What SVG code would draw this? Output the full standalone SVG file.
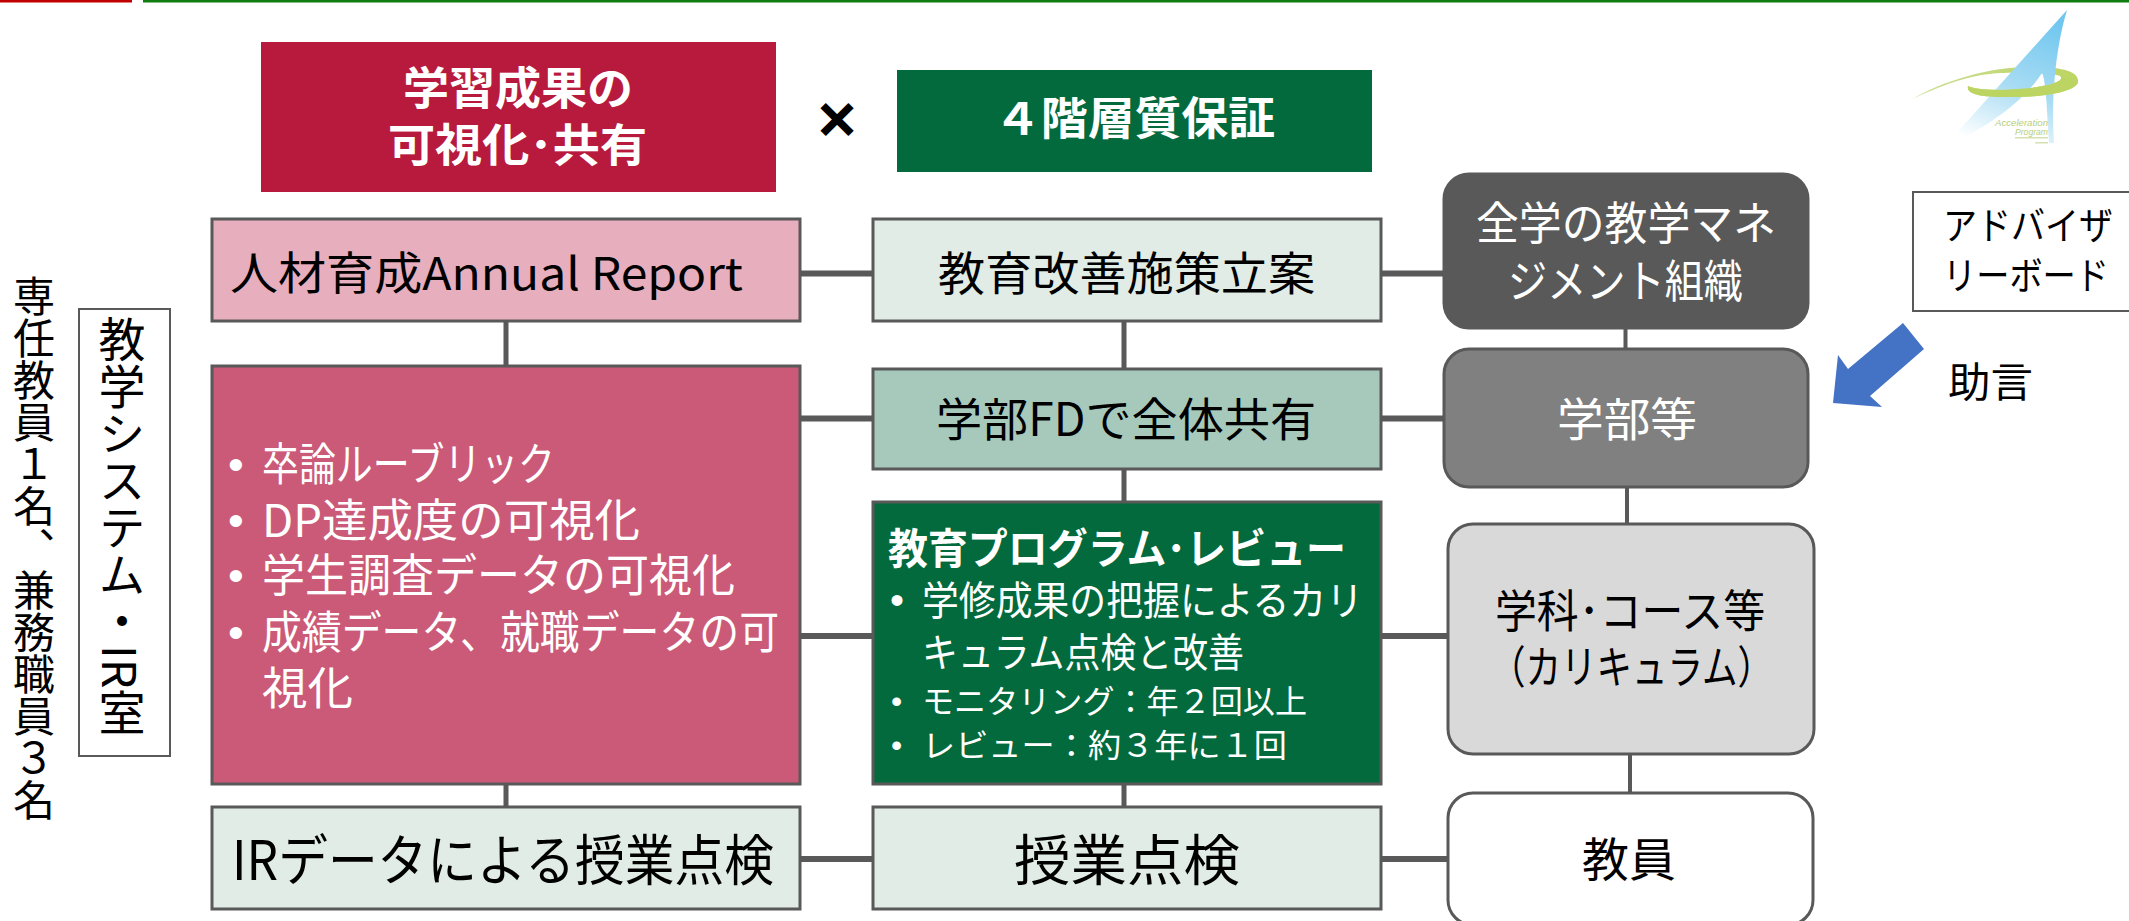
<svg xmlns="http://www.w3.org/2000/svg" width="2129" height="921" viewBox="0 0 2129 921">
<style>
text{font-family:"Noto Sans CJK JP","Noto Sans",sans-serif;fill:#000}
.w{fill:#fff}
.b{font-weight:700}
.bu{font-family:"Liberation Sans",sans-serif}
.box{stroke:#595959;stroke-width:3}
.thin{stroke:#595959;stroke-width:2}
.cn{stroke:#595959;fill:none}
.h{stroke-width:6}
.v{stroke-width:5}
.v3{stroke-width:4}
.vt{writing-mode:vertical-rl}
.lg{font-family:"Liberation Sans",sans-serif;font-style:italic;fill:#b9ce7a}
</style>
<defs>
<linearGradient id="blue" x1="0.7" y1="0" x2="0.35" y2="1"><stop offset="0" stop-color="#6fc6ef"/><stop offset="0.55" stop-color="#a9dcf4"/><stop offset="1" stop-color="#ffffff"/></linearGradient>
<linearGradient id="tail" x1="0" y1="0" x2="1" y2="0"><stop offset="0" stop-color="#dce8b4"/><stop offset="0.2" stop-color="#c8dc8a"/><stop offset="1" stop-color="#bcd562"/></linearGradient>
<filter id="soft"><feGaussianBlur stdDeviation="0.5"/></filter>
</defs>
<rect width="2129" height="921" fill="#fff"/>
<rect x="0" y="0" width="132" height="2.500" fill="#c00000"/>
<rect x="143" y="0" width="1986" height="2.500" fill="#107c10"/>

<g id="connectors">
<path class="cn h" d="M800 273.500H873M1381 273.500H1443M800 418.500H873M1381 418.500H1444M800 636H873M1381 636H1448M800 859H873M1381 859H1448"/>
<path class="cn v" d="M506 321V365M506 784V807M1124 321V368M1124 469V501M1124 784V807"/>
<path class="cn v3" d="M1625.500 328V348M1627 487V523M1630 754V792"/>
</g>

<g id="logo">
<g filter="url(#soft)">
<path fill="url(#tail)" d="M1912 99C1945 80 1995 65 2040 67C2070 68 2079 74 2078 82C2076 92 2040 98 2005 97C1980 97 1966 94 1968 86C1975 90 2000 91 2030 88C2055 85 2065 80 2060 76C2050 73 2020 72 2000 73C1965 75 1940 87 1912 99Z"/>
<path fill="url(#blue)" d="M2067 10L1945 146C1985 130 2025 100 2042 73C2046 80 2047 110 2049 143L2054 143C2051 100 2055 50 2067 10Z"/>
<path fill="#bcd562" d="M2078 82C2076 92 2040 98 2005 97C1980 97 1966 94 1968 86C1975 90 2000 91 2030 88C2055 85 2065 80 2060 76Z"/>
<rect x="2015" y="137" width="33" height="1.500" fill="#d5e0b0"/>
<rect x="2035" y="142" width="13" height="1.500" fill="#d5e0b0"/>
</g>
<text class="lg" x="2048" y="126" text-anchor="end" font-size="9.500" textLength="53" lengthAdjust="spacingAndGlyphs">Acceleration</text>
<text class="lg" x="2048" y="135" text-anchor="end" font-size="9.500" textLength="33" lengthAdjust="spacingAndGlyphs">Program</text>
</g>

<g id="header-red">
<rect x="261" y="42" width="515" height="150" fill="#b71a3d"/>
<text class="w b" x="403" y="105" font-size="45" textLength="230" lengthAdjust="spacingAndGlyphs">学習成果の</text>
<text class="w b" x="388" y="162" font-size="45" textLength="259" lengthAdjust="spacingAndGlyphs">可視化･共有</text>
</g>
<g id="times"><text class="b" x="837" y="136" font-size="44" text-anchor="middle" stroke="#000" stroke-width="3">×</text></g>
<g id="header-green">
<rect x="897" y="70" width="475" height="102" fill="#036a3d"/>
<text class="w b" x="994" y="135" font-size="45" textLength="281" lengthAdjust="spacingAndGlyphs">４階層質保証</text>
</g>

<g id="n-annual">
<rect class="box" x="212" y="219" width="588" height="102" fill="#e7aebd"/>
<text x="230" y="290" font-size="45" textLength="513" lengthAdjust="spacingAndGlyphs">人材育成Annual Report</text>
</g>
<g id="n-visual">
<rect class="box" x="212" y="366" width="588" height="418" fill="#cb5a78"/>
<g font-size="45">
<text class="w bu" x="228" y="480">•</text>
<text class="w" x="262" y="481" textLength="293" lengthAdjust="spacingAndGlyphs">卒論ルーブリック</text>
<text class="w bu" x="228" y="536">•</text>
<text class="w" x="262" y="537" textLength="378" lengthAdjust="spacingAndGlyphs">DP達成度の可視化</text>
<text class="w bu" x="228" y="591">•</text>
<text class="w" x="262" y="592" textLength="473" lengthAdjust="spacingAndGlyphs">学生調査データの可視化</text>
<text class="w bu" x="228" y="648">•</text>
<text class="w" x="262" y="649" textLength="517" lengthAdjust="spacingAndGlyphs">成績データ、就職データの可</text>
<text class="w" x="262" y="705" textLength="91" lengthAdjust="spacingAndGlyphs">視化</text>
</g>
</g>
<g id="n-ir">
<rect class="box" x="212" y="807" width="588" height="102" fill="#e0ece5"/>
<text x="232" y="880" font-size="55" textLength="542" lengthAdjust="spacingAndGlyphs">IRデータによる授業点検</text>
</g>

<g id="n-plan">
<rect class="box" x="873" y="219" width="508" height="102" fill="#e0ece5"/>
<text x="938" y="290" font-size="46" textLength="377" lengthAdjust="spacingAndGlyphs">教育改善施策立案</text>
</g>
<g id="n-fd">
<rect class="box" x="873" y="369" width="508" height="100" fill="#a7c9bb"/>
<text x="936" y="436" font-size="46" textLength="380" lengthAdjust="spacingAndGlyphs">学部FDで全体共有</text>
</g>
<g id="n-review">
<rect class="box" x="873" y="502" width="508" height="282" fill="#036a3d"/>
<text class="w b" x="888" y="564" font-size="42" textLength="458" lengthAdjust="spacingAndGlyphs">教育プログラム･レビュー</text>
<text class="w bu" x="890" y="614" font-size="40">•</text>
<text class="w" x="922" y="615" font-size="40" textLength="441" lengthAdjust="spacingAndGlyphs">学修成果の把握によるカリ</text>
<text class="w" x="922" y="667" font-size="40" textLength="322" lengthAdjust="spacingAndGlyphs">キュラム点検と改善</text>
<text class="w bu" x="891" y="712" font-size="32">•</text>
<text class="w" x="922" y="713" font-size="32" textLength="385" lengthAdjust="spacingAndGlyphs">モニタリング：年２回以上</text>
<text class="w bu" x="891" y="756" font-size="32">•</text>
<text class="w" x="922" y="757" font-size="32" textLength="365" lengthAdjust="spacingAndGlyphs">レビュー：約３年に１回</text>
</g>
<g id="n-check">
<rect class="box" x="873" y="807" width="508" height="102" fill="#e0ece5"/>
<text x="1014" y="880" font-size="55" textLength="226" lengthAdjust="spacingAndGlyphs">授業点検</text>
</g>

<g id="n-mgmt">
<rect class="box" x="1444" y="174" width="364" height="154" rx="25" fill="#595959"/>
<text class="w" x="1476" y="240" font-size="45" textLength="300" lengthAdjust="spacingAndGlyphs">全学の教学マネ</text>
<text class="w" x="1508" y="298" font-size="45" textLength="235" lengthAdjust="spacingAndGlyphs">ジメント組織</text>
</g>
<g id="n-faculty">
<rect class="box" x="1444" y="349" width="364" height="138" rx="25" fill="#808080"/>
<text class="w" x="1557" y="436" font-size="46" textLength="140" lengthAdjust="spacingAndGlyphs">学部等</text>
</g>
<g id="n-dept">
<rect class="box" x="1448" y="524" width="366" height="230" rx="25" fill="#d9d9d9"/>
<text x="1495" y="628" font-size="45" textLength="270" lengthAdjust="spacingAndGlyphs">学科･コース等</text>
<text x="1490" y="684" font-size="45" textLength="283" lengthAdjust="spacingAndGlyphs">（カリキュラム）</text>
</g>
<g id="n-staff">
<rect class="box" x="1448" y="793" width="365" height="132" rx="25" fill="#fff"/>
<text x="1582" y="876" font-size="46" textLength="94" lengthAdjust="spacingAndGlyphs">教員</text>
</g>

<g id="n-board">
<rect class="thin" x="1913" y="192" width="225" height="119" fill="#fff"/>
<text x="1943" y="239" font-size="38" textLength="170" lengthAdjust="spacingAndGlyphs">アドバイザ</text>
<text x="1943" y="289" font-size="38" textLength="166" lengthAdjust="spacingAndGlyphs">リーボード</text>
</g>
<g id="advice-arrow">
<polygon points="1903,323 1924,349 1870,396 1882,407 1833,403 1838,355 1848,369" fill="#4472c4"/>
</g>
<g id="advice-label"><text x="1948" y="397" font-size="41" textLength="85" lengthAdjust="spacingAndGlyphs">助言</text></g>

<g id="n-ir-office">
<rect class="thin" x="79" y="309" width="91" height="447" fill="#fff"/>
<text class="vt" x="122" y="316" font-size="47">教学システム・IR室</text>
</g>
<g id="staff-note"><text class="vt" x="34" y="275" font-size="42">専任教員１名、兼務職員３名</text></g>
</svg>
